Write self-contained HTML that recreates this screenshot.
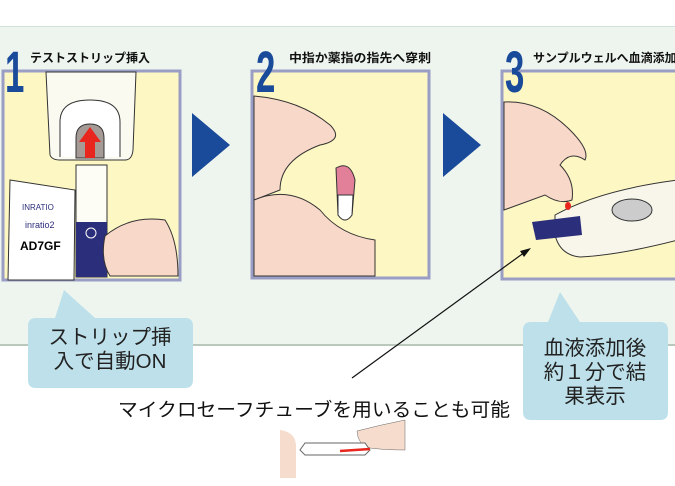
<!DOCTYPE html>
<html><head><meta charset="utf-8"><style>
body{margin:0;width:675px;height:486px;overflow:hidden;background:#fff}
svg{display:block}
.t{font-family:"Liberation Sans","Noto Sans CJK JP",sans-serif}
</style></head><body>
<svg width="675" height="486" viewBox="0 0 675 486" xmlns="http://www.w3.org/2000/svg">
<rect x="0" y="26" width="675" height="319" fill="#eef5ee"/>
<line x1="0" y1="26.5" x2="675" y2="26.5" stroke="#cfe3dc" stroke-width="1"/>
<line x1="0" y1="345" x2="675" y2="345" stroke="#b9c7bd" stroke-width="2"/>
<!-- panels -->
<rect x="3" y="71" width="177" height="209" fill="#fdf7c3" stroke="#9a9ec4" stroke-width="3"/>
<rect x="252" y="71" width="177" height="207" fill="#fdf7c3" stroke="#9a9ec4" stroke-width="3"/>
<rect x="502" y="71" width="176" height="208" fill="#fdf7c3" stroke="#9a9ec4" stroke-width="3"/>
<!-- panel1 content -->
<path d="M46 72 L50 155 Q52 160 60 160 L125 160 Q132 160 133 150 L136 72 Z" fill="#fbfaf0" stroke="#333"/>
<path d="M60 157 L60 122 Q60 100 90 100 Q120 100 120 122 L120 157" fill="#fff" stroke="#333"/>
<path d="M76 158 L76 138 Q76 124 90 124 Q104 124 104 138 L104 158 Z" fill="#a59a95" stroke="#333"/>
<polygon points="90,127 101,142 95,142 95,158 85,158 85,142 79,142" fill="#e8261e"/>
<rect x="76" y="165" width="31" height="112" fill="#fdfdf5" stroke="#333"/>
<rect x="76" y="222" width="31" height="55" fill="#2b2e7a"/>
<circle cx="91" cy="233" r="5" fill="none" stroke="#fff"/>
<path d="M10 180 L75 190 L74 280 L8 280 Z" fill="#fff" stroke="#333"/>
<text x="22" y="210" class="t" font-size="8" fill="#2b2e7a">INRATIO</text>
<text x="25" y="228" class="t" font-size="9" fill="#2b2e7a">inratio2</text>
<text x="20" y="250" class="t" font-size="12" font-weight="bold">AD7GF</text>
<path d="M105 236 Q130 215 165 220 Q178 240 178 276 L110 276 Q100 260 105 236 Z" fill="#f8d8c8" stroke="#333"/>
<!-- panel2 content -->
<path d="M254 96 Q300 100 330 125 Q345 140 320 145 Q280 160 280 190 L254 200 Z" fill="#f8d8c8" stroke="#333"/>
<path d="M254 200 Q290 185 320 210 Q340 235 375 240 L375 276 L254 276 Z" fill="#f8d8c8" stroke="#333"/>
<path d="M336 168 Q350 160 355 180 L352 215 Q345 225 338 215 Z" fill="#e2809a" stroke="#333"/>
<path d="M338 195 L353 195 L352 215 Q345 225 338 215 Z" fill="#fff" stroke="#333"/>
<!-- panel3 content -->
<path d="M504 102 Q540 100 570 130 Q590 150 585 160 Q570 150 560 165 Q575 180 572 200 Q560 205 545 195 L504 210 Z" fill="#f8d8c8" stroke="#333"/>
<path d="M555 215 Q600 190 678 180 L678 240 Q620 255 580 257 Q560 255 555 235 Z" fill="#f8f6ea" stroke="#333"/>
<ellipse cx="632" cy="210" rx="20" ry="11" fill="#ccc" stroke="#333"/>
<path d="M532 222 L580 216 L582 235 L536 240 Z" fill="#2b2e7a"/>
<ellipse cx="568" cy="206" rx="3" ry="4" fill="#e8261e"/>
<!-- arrows -->
<polygon points="192,113 230,145 192,177" fill="#1a4a9a"/>
<polygon points="443,113 481,145 443,177" fill="#1a4a9a"/>
<!-- numbers -->
<text x="5" y="92" class="t" font-size="58" font-weight="bold" fill="#1a4a9a" transform="translate(5 0) scale(0.6 1) translate(-5 0)">1</text>
<text x="256" y="92" class="t" font-size="58" font-weight="bold" fill="#1a4a9a" transform="translate(256 0) scale(0.6 1) translate(-256 0)">2</text>
<text x="505" y="92" class="t" font-size="58" font-weight="bold" fill="#1a4a9a" transform="translate(505 0) scale(0.6 1) translate(-505 0)">3</text>
<text x="30" y="62" class="t" font-size="12" font-weight="bold" fill="#111" textLength="120" lengthAdjust="spacingAndGlyphs">テストストリップ挿入</text>
<text x="289" y="62" class="t" font-size="12" font-weight="bold" fill="#111" textLength="142" lengthAdjust="spacingAndGlyphs">中指か薬指の指先へ穿刺</text>
<text x="533" y="62" class="t" font-size="12" font-weight="bold" fill="#111">サンプルウェルへ血滴添加</text>
<!-- bubbles -->
<path d="M64 290 L95 318 L185 318 Q193 318 193 326 L193 380 Q193 388 185 388 L36 388 Q28 388 28 380 L28 326 Q28 318 36 318 L55 318 Z" fill="#bde0ea"/>
<text x="110" y="344" class="t" font-size="20.5" fill="#222" text-anchor="middle">ストリップ挿</text>
<text x="110" y="368" class="t" font-size="20.5" fill="#222" text-anchor="middle">入で自動ON</text>
<path d="M560 292 L580 322 L660 322 Q668 322 668 330 L668 412 Q668 420 660 420 L531 420 Q523 420 523 412 L523 330 Q523 322 531 322 L548 322 Z" fill="#bde0ea"/>
<text x="595" y="355" class="t" font-size="20.5" fill="#222" text-anchor="middle">血液添加後</text>
<text x="595" y="379" class="t" font-size="20.5" fill="#222" text-anchor="middle">約１分で結</text>
<text x="595" y="403" class="t" font-size="20.5" fill="#222" text-anchor="middle">果表示</text>
<!-- pointer -->
<line x1="352" y1="378" x2="525" y2="252" stroke="#111" stroke-width="1.2"/>
<polygon points="531,248 520,251 524,257" fill="#111"/>
<text x="118" y="416" class="t" font-size="19" fill="#111" textLength="392" lengthAdjust="spacingAndGlyphs">マイクロセーフチューブを用いることも可能</text>
<!-- tube -->
<path d="M280 430 Q295 432 296 445 L296 478 L280 478 Z" fill="#f6dccc"/>
<path d="M357 431 Q380 425 405 420 L405 450 Q385 450 370 448 Q358 445 357 431 Z" fill="#f6dccc" stroke="#666" stroke-width="0.5"/>
<path d="M305 443 L365 443 L370 450 L365 455 L305 455 L300 450 Z" fill="#fff" stroke="#666"/>
<line x1="340" y1="451" x2="370" y2="449" stroke="#e8261e" stroke-width="2.5"/>
</svg>
</body></html>
